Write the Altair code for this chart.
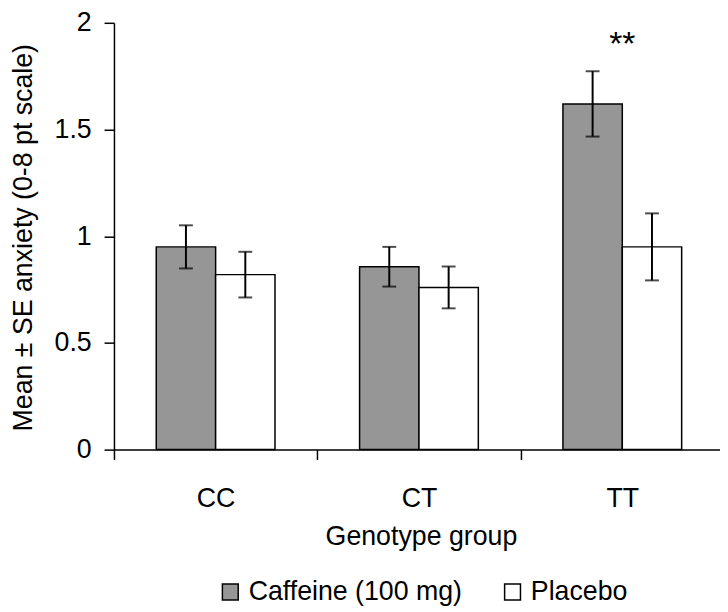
import altair as alt
import pandas as pd

categories = ["CC", "CT", "TT"]
groups = ["Caffeine (100 mg)", "Placebo"]
caffeine_mean = [0.95, 0.857, 1.62]
caffeine_se = [0.101, 0.093, 0.153]
placebo_mean = [0.82, 0.76, 0.95]
placebo_se = [0.107, 0.098, 0.157]
significance = ["", "", "**"]
group_colors = ["#969696", "#ffffff"]

rows = []
for i, c in enumerate(categories):
    for g, m, s in ((groups[0], caffeine_mean[i], caffeine_se[i]),
                    (groups[1], placebo_mean[i], placebo_se[i])):
        rows.append({"cat": c, "group": g, "mean": m, "lo": m - s, "hi": m + s})
df = pd.DataFrame(rows)

sig_rows = []
for i, c in enumerate(categories):
    top = max(caffeine_mean[i] + caffeine_se[i], placebo_mean[i] + placebo_se[i])
    sig_rows.append({"cat": c, "label": significance[i], "top": top})
sig_df = pd.DataFrame(sig_rows)

FONT = "Liberation Sans"
FS = 27

x_enc = alt.X(
    "cat:N",
    scale=alt.Scale(domain=categories, range=[0, 616], paddingInner=0, paddingOuter=0),
    axis=alt.Axis(
        title="Genotype group", tickBand="extent", labelAngle=0,
        labelFontSize=FS, labelBaseline="alphabetic", labelPadding=47,
        tickSize=10, titleFontSize=FS, titleFontWeight="normal",
        titleX=310, titleY=96, titleBaseline="alphabetic", titleAlign="center",
    ),
)
xo_enc = alt.XOffset(
    "group:N",
    scale=alt.Scale(domain=groups, paddingInner=0, paddingOuter=0.7125),
)
y_scale = alt.Scale(domain=[0, 2], nice=False, zero=True)

bars = alt.Chart(df).mark_bar(stroke="black", strokeWidth=1.5).encode(
    x=x_enc,
    xOffset=xo_enc,
    y=alt.Y(
        "mean:Q", scale=y_scale,
        axis=alt.Axis(
            title="Mean ± SE anxiety (0-8 pt scale)", values=[0, 0.5, 1, 1.5, 2],
            format="~g", labelFontSize=FS, labelPadding=13, tickSize=10,
            titleFontSize=FS, titleFontWeight="normal", titleAngle=270,
            titleX=-83, titleY=216.5, titleAlign="center", titleBaseline="alphabetic",
        ),
    ),
    color=alt.Color(
        "group:N",
        scale=alt.Scale(domain=groups, range=group_colors),
        legend=alt.Legend(
            orient="none", legendX=104, legendY=561, direction="horizontal",
            title=None, symbolType="square", symbolSize=256,
            symbolStrokeColor="black", symbolStrokeWidth=1.5,
            labelFontSize=FS, labelOffset=5, columnPadding=37, padding=0,
            labelColor="black", labelLimit=400,
        ),
    ),
)

rules = alt.Chart(df).mark_rule(color="black", strokeWidth=2).encode(
    x=x_enc, xOffset=xo_enc, y=alt.Y("lo:Q", scale=y_scale), y2="hi:Q"
)
caps_lo = alt.Chart(df).mark_tick(color="black", thickness=2, size=14).encode(
    x=x_enc, xOffset=xo_enc, y=alt.Y("lo:Q", scale=y_scale)
)
caps_hi = alt.Chart(df).mark_tick(color="black", thickness=2, size=14).encode(
    x=x_enc, xOffset=xo_enc, y=alt.Y("hi:Q", scale=y_scale)
)
stars = alt.Chart(sig_df).mark_text(
    fontSize=34, dy=-16, baseline="alphabetic", color="black", font=FONT
).encode(
    x=x_enc, y=alt.Y("top:Q", scale=y_scale), text="label:N"
)

chart = alt.layer(bars, rules, caps_lo, caps_hi, stars).properties(
    width=612, height=431,
    autosize=alt.AutoSizeParams(type="none"),
    padding={"left": 107, "top": 12, "right": 0, "bottom": 158},
).configure(
    font=FONT,
).configure_view(
    stroke=None,
).configure_axis(
    grid=False, domainColor="black", tickColor="black", labelColor="black",
    titleColor="black", domainWidth=1.5, tickWidth=1.5, labelFont=FONT, titleFont=FONT,
).configure_legend(
    labelFont=FONT,
)

chart.save("out.html", embed_options={"renderer": "svg", "actions": False})
